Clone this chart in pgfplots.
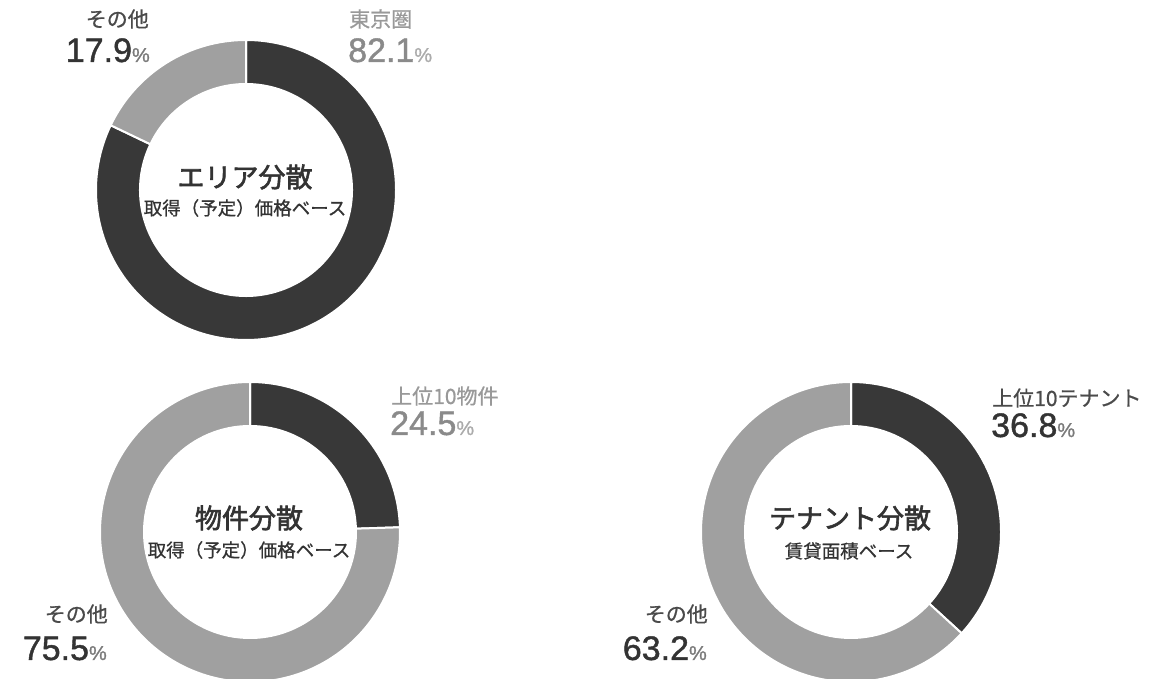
\documentclass[border=0pt]{standalone}
\usepackage{pgfplots}
\pgfplotsset{compat=1.18}
\usepackage{pgfplotstable}
\usepackage{fontspec}
\setmainfont{Liberation Sans}
\newfontfamily\numfont{Liberation Sans}[FakeBold=1.2]
\newfontfamily\jp{Noto Sans CJK JP}[FakeBold=0.8]
\newfontfamily\jpt{Noto Sans CJK JP}[FakeBold=2.2]

\definecolor{darkseg}{HTML}{383838}
\definecolor{lightseg}{HTML}{A0A0A0}
\definecolor{numdark}{HTML}{333333}
\definecolor{lbldark}{HTML}{4A4A4A}
\definecolor{pctdark}{HTML}{7A7A7A}
\definecolor{numgray}{HTML}{8A8A8A}
\definecolor{lblgray}{HTML}{999999}
\definecolor{pctgray}{HTML}{ABABAB}

% donut centres (1 unit = 1px, y upwards) and share of the dark segment
\pgfplotstableread{
cx  cy  share
246 489 82.1
250 147 24.5
851 147 36.8
}\donuts

\newcommand{\Rout}{150pt}
\newcommand{\Rin}{106pt}

\newcommand{\donut}[1]{%
  \pgfplotstablegetelem{#1}{cx}\of\donuts\let\cx\pgfplotsretval
  \pgfplotstablegetelem{#1}{cy}\of\donuts\let\cy\pgfplotsretval
  \pgfplotstablegetelem{#1}{share}\of\donuts\let\sh\pgfplotsretval
  \pgfmathsetmacro{\am}{90-3.6*\sh}%
  \edef\temp{%
    \noexpand\filldraw[fill=darkseg, draw=white, line width=2pt]
      (axis cs:\cx,\cy) ++(90:\Rout) arc[start angle=90, end angle=\am, radius=\Rout]
      -- ++({\am+180}:{\Rout-\Rin}) arc[start angle=\am, end angle=90, radius=\Rin] -- cycle;
    \noexpand\filldraw[fill=lightseg, draw=white, line width=2pt]
      (axis cs:\cx,\cy) ++(\am:\Rout) arc[start angle=\am, end angle=-270, radius=\Rout]
      -- ++(270:{\Rout-\Rin}) arc[start angle=-270, end angle=\am, radius=\Rin] -- cycle;
  }\temp
}

\newcommand{\jpl}{\jp\fontsize{21}{21}\selectfont}
\newcommand{\num}{\numfont\fontsize{34}{34}\selectfont}
\newcommand{\pct}{\fontsize{20}{20}\selectfont}
\newcommand{\ttl}{\jpt\fontsize{27}{27}\selectfont}
\newcommand{\sub}{\jp\fontsize{18.5}{18.5}\selectfont}

\begin{document}
\begin{tikzpicture}
\begin{axis}[x=1pt, y=1pt, xmin=0, xmax=1150, ymin=0, ymax=679,
    hide axis, clip=false]
  \donut{0}
  \donut{1}
  \donut{2}

  % area
  \node[anchor=east, inner sep=0, text=lbldark, font=\jpl] at (axis cs:149,660) {その他};
  \node[anchor=base east, inner sep=0, text=numdark, font=\num] at (axis cs:150,617) {17.9\textcolor{pctdark}{\pct\%}};
  \node[anchor=west, inner sep=0, text=lblgray, font=\jpl] at (axis cs:349,660) {東京圏};
  \node[anchor=base west, inner sep=0, text=numgray, font=\num] at (axis cs:348,617) {82.1\textcolor{pctgray}{\pct\%}};
  \node[inner sep=0, text=numdark, font=\ttl] at (axis cs:245,502) {エリア分散};
  \node[inner sep=0, text=numdark, font=\sub] at (axis cs:245,471) {取得（予定）価格ベース};

  % property
  \node[anchor=west, inner sep=0, text=lblgray, font=\jpl] at (axis cs:391,283) {上位10物件};
  \node[anchor=base west, inner sep=0, text=numgray, font=\num] at (axis cs:390,244) {24.5\textcolor{pctgray}{\pct\%}};
  \node[anchor=east, inner sep=0, text=lbldark, font=\jpl] at (axis cs:108,65) {その他};
  \node[anchor=base east, inner sep=0, text=numdark, font=\num] at (axis cs:107,19) {75.5\textcolor{pctdark}{\pct\%}};
  \node[inner sep=0, text=numdark, font=\ttl] at (axis cs:249,161) {物件分散};
  \node[inner sep=0, text=numdark, font=\sub] at (axis cs:249,129) {取得（予定）価格ベース};

  % tenant
  \node[anchor=west, inner sep=0, text=lbldark, font=\jpl] at (axis cs:992,281) {上位10テナント};
  \node[anchor=base west, inner sep=0, text=numdark, font=\num] at (axis cs:991,242) {36.8\textcolor{pctdark}{\pct\%}};
  \node[anchor=east, inner sep=0, text=lbldark, font=\jpl] at (axis cs:708,65) {その他};
  \node[anchor=base east, inner sep=0, text=numdark, font=\num] at (axis cs:707,19) {63.2\textcolor{pctdark}{\pct\%}};
  \node[inner sep=0, text=numdark, font=\ttl] at (axis cs:850,161) {テナント分散};
  \node[inner sep=0, text=numdark, font=\sub] at (axis cs:849,128) {賃貸面積ベース};
\end{axis}
\pgfresetboundingbox
\path[use as bounding box] (current axis.south west) rectangle (current axis.north east);
\end{tikzpicture}
\end{document}
